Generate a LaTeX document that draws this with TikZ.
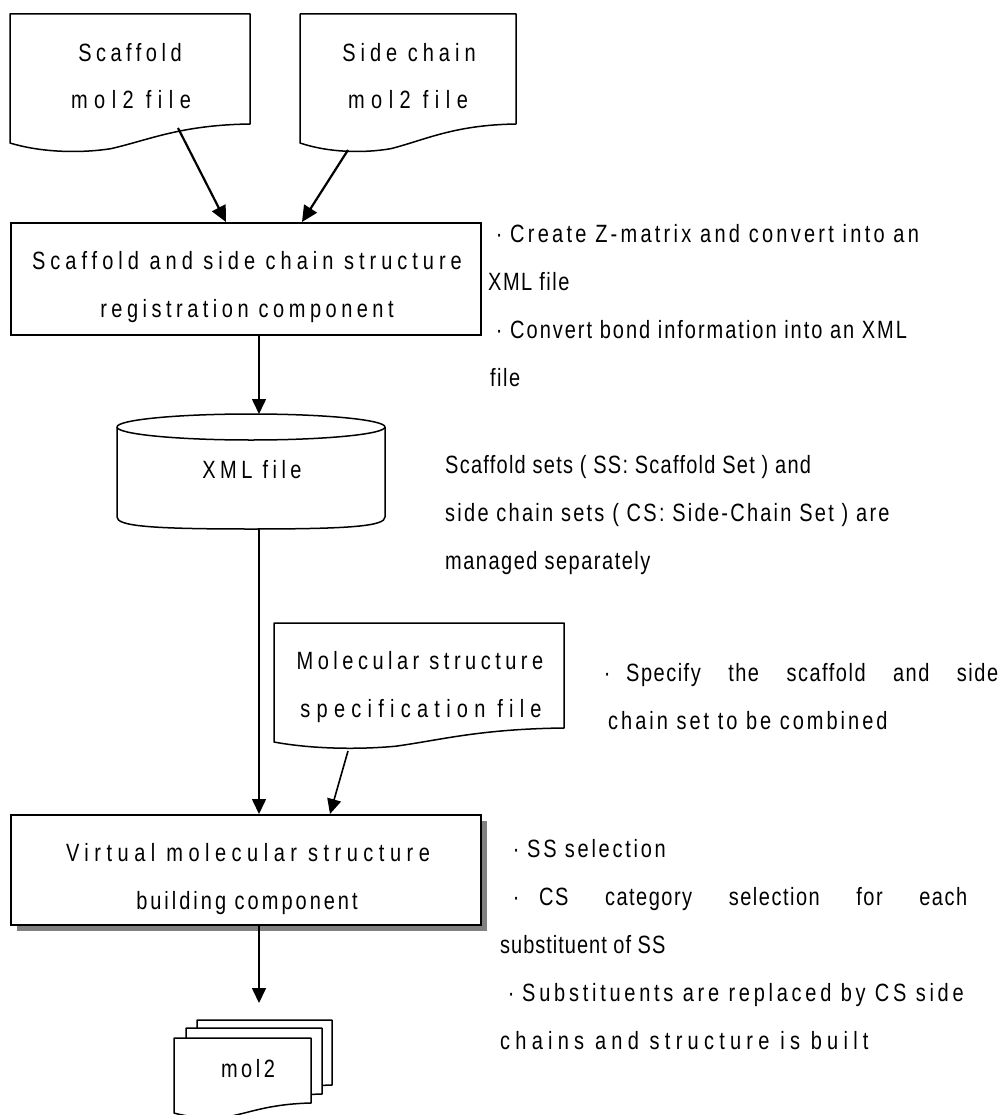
\documentclass[tikz,border=0pt]{standalone}
\usepackage{fontspec}
\setmainfont{Liberation Sans}
\newfontfamily\boxfamily[FakeStretch=0.8,LetterSpace=18]{Liberation Sans}
\newfontfamily\notefamily[FakeStretch=0.8,LetterSpace=6]{Liberation Sans}
\usetikzlibrary{arrows.meta}
\newcommand\bfnt{\fontsize{25pt}{30pt}\boxfamily}
\newcommand\nfnt{\fontsize{25pt}{30pt}\notefamily}
\newcommand\bul{\makebox[22pt][c]{·}}
\newcommand\LS[2]{{\addfontfeature{LetterSpace=#1}#2}}
% wavy-bottom document outline: x1, yTop, x2, yLeftBottom, drop
\newcommand\wavedoc[5]{%
  \pgfmathsetmacro\wA{#3-#1}%
  \path[docline] (#1,#2) -- (#3,#2) -- (#3,#4-#5)
    .. controls (#3-0.29*\wA,#4-#5+1) and (#1+0.58*\wA,#4-0.16*#5) .. (#1+0.42*\wA,#4+0.3*#5)
    .. controls (#1+0.29*\wA,#4+0.55*#5) and (#1+0.13*\wA,#4+0.5*#5) .. (#1,#4) -- cycle;}
\begin{document}
\begin{tikzpicture}[x=1pt,y=-1pt,
  docline/.style={draw=black,fill=white,line width=1.5pt,line join=round},
  boxnode/.style={draw=black,fill=white,line width=1.6pt,inner sep=0pt,anchor=north west},
  arr/.style={line width=1.6pt,-{Triangle[length=15pt,width=14pt]}},
  thickarr/.style={line width=2.2pt,-{Triangle[length=16pt,width=15pt]}},
  bt/.style={anchor=base,font=\bfnt,inner sep=0pt},
  nt/.style={anchor=base west,font=\nfnt,inner sep=0pt},
  shadow/.style={fill=black!50,draw=none}]
\useasboundingbox (0,0) rectangle (1006,1115);

% --- source documents
\wavedoc{10}{14}{250}{143}{19}
\node[bt] (sc1) at (130,62) {Scaffold};
\node[bt] (sc2) at (131,109) {\LS{26}{mol2 file}};
\coordinate (scOut) at (178,128);

\wavedoc{300}{14}{516}{143}{19}
\node[bt] (sd1) at (409,62) {\LS{20}{Side chain}};
\node[bt] (sd2) at (408,109) {\LS{26}{mol2 file}};
\coordinate (sdOut) at (348,150);

% --- registration component
\node[boxnode,minimum width=470pt,minimum height=112pt] (reg) at (10,222) {};
\node[bt] (reg1) at (247,269) {\LS{20}{Scaffold and side chain structure}};
\node[bt] (reg2) at (247,317) {registration component};
\coordinate (scIn) at (226,222);
\coordinate (sdIn) at (302,222);

% --- XML cylinder
\path[docline] (117,427) -- (117,517) .. controls (117,526) and (150,529) .. (251,529)
  .. controls (352,529) and (385,526) .. (385,517) -- (385,427);
\draw[docline] (251,427) ellipse [x radius=134, y radius=13];
\node[bt] (xml) at (252,478) {XML file};
\coordinate (xmlTop) at (259,414);
\coordinate (xmlBot) at (259,529);

% --- specification document
\wavedoc{274}{623}{564}{742}{14}
\node[bt] (sp1) at (420,669) {Molecular structure};
\node[bt] (sp2) at (421,717) {\LS{25}{specification file}};
\coordinate (spOut) at (348,751);
\coordinate (spIn) at (330,814);

% --- virtual building component with shadow
\fill[shadow] (17,821) rectangle (487,931);
\node[boxnode,minimum width=470pt,minimum height=110pt] (virt) at (10,814) {};
\node[bt] (v1) at (248,861) {\LS{22}{Virtual molecular structure}};
\node[bt] (v2) at (247,909) {\LS{12}{building component}};

% --- mol2 stack
\wavedoc{197}{1020}{332}{1095}{10}
\wavedoc{186}{1028}{322}{1104}{10}
\wavedoc{174}{1038}{311}{1113}{10}
\node[bt] (mol) at (248,1077) {\LS{14}{mol2}};
\coordinate (molTop) at (259,1003);

% --- connectors
\draw[thickarr] (scOut) -- (scIn);
\draw[thickarr] (sdOut) -- (sdIn);
\draw[arr] (reg.south -| xmlTop) -- (xmlTop);
\draw[arr] (xmlBot) -- (virt.north -| xmlBot);
\draw[arr] (spOut) -- (spIn);
\draw[arr] (virt.south -| molTop) -- (molTop);

% --- notes
\node[nt] (n1a) at (488,242) {\bul\LS{13}{Create Z-matrix and convert into an}};
\node[nt] (n1b) at (488,290) {XML file};
\node[nt] (n1c) at (488,338) {\bul\LS{8}{Convert bond information into an XML}};
\node[nt] (n1d) at (490,386) {file};

\node[nt] (n2a) at (445,473) {\LS{5}{Scaffold sets ( SS: Scaffold Set ) and}};
\node[nt] (n2b) at (445,521) {\LS{9}{side chain sets ( CS: Side-Chain Set ) are}};
\node[nt] (n2c) at (445,569) {managed separately};

\node[nt] (n3a) at (596,681) {\makebox[402pt][s]{\bul\hspace{8pt}Specify the scaffold and side}};
\node[nt] (n3b) at (608,729) {\LS{12}{chain set to be combined}};

\node[nt] (n4a) at (505,857) {\bul\LS{11}{SS selection}};
\node[nt] (n4b) at (505,905) {\makebox[462pt][s]{\bul\hspace{12pt}CS category selection for each}};
\node[nt] (n4c) at (500,953) {\LS{4}{substituent of SS}};
\node[nt] (n4d) at (500,1001) {\bul\LS{15}{Substituents are replaced by CS side}};
\node[nt] (n4e) at (500,1049) {\LS{21}{chains and structure is built}};
\end{tikzpicture}
\end{document}
